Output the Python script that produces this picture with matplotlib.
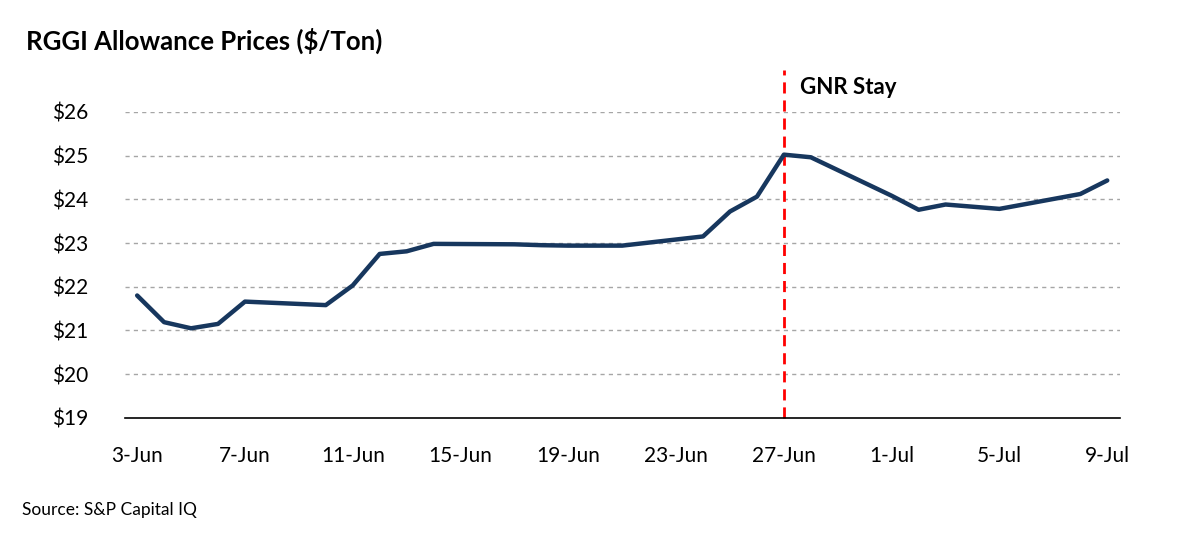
import pandas as pd
import matplotlib
matplotlib.use("Agg")
import matplotlib.pyplot as plt
import matplotlib.dates as mdates
from matplotlib.ticker import FuncFormatter

plt.rcParams['font.family'] = ['Lato', 'DejaVu Sans']

# trading days (2019) and RGGI allowance prices
dates = pd.to_datetime([
    "2019-06-03", "2019-06-04", "2019-06-05", "2019-06-06", "2019-06-07",
    "2019-06-10", "2019-06-11", "2019-06-12", "2019-06-13", "2019-06-14",
    "2019-06-17", "2019-06-18", "2019-06-19", "2019-06-20", "2019-06-21",
    "2019-06-24", "2019-06-25", "2019-06-26", "2019-06-27", "2019-06-28",
    "2019-07-01", "2019-07-02", "2019-07-03", "2019-07-05",
    "2019-07-08", "2019-07-09",
])
prices = [
    21.80, 21.19, 21.05, 21.15, 21.66,
    21.58, 22.03, 22.75, 22.81, 22.98,
    22.97, 22.95, 22.94, 22.94, 22.94,
    23.15, 23.72, 24.06, 25.02, 24.96,
    24.08, 23.76, 23.88, 23.78,
    24.12, 24.43,
]
tick_dates = pd.date_range("2019-06-03", "2019-07-09", freq="4D")
y_ticks = [19, 20, 21, 22, 23, 24, 25, 26]
event_date = pd.Timestamp("2019-06-27")
event_label = "GNR Stay"

fig = plt.figure(figsize=(12, 5.4), dpi=100)
ax = fig.add_axes([0.104, 0.226, 0.829, 0.567])

ax.plot(dates, prices, color='#17375E', linewidth=3.2, solid_joinstyle='round',
        solid_capstyle='round', zorder=3)

ax.set_ylim(19, 26)
ax.set_yticks(y_ticks)
ax.yaxis.set_major_formatter(FuncFormatter(lambda v, p: f"${v:.0f}"))
for y in y_ticks[1:]:
    ax.axhline(y, color='#A6A6A6', linewidth=1, linestyle=(0, (3, 3)), zorder=1)

ax.set_xlim(dates[0] - pd.Timedelta(hours=11), dates[-1] + pd.Timedelta(hours=11))
ax.set_xticks(tick_dates)
ax.xaxis.set_major_formatter(FuncFormatter(
    lambda v, p: f"{mdates.num2date(v).day}-{mdates.num2date(v):%b}"))

# event marker, runs above the plot area
ax.plot([event_date, event_date], [19, 26.95], color='#FF0000', linewidth=2,
        linestyle=(0, (4, 2.5)), clip_on=False, zorder=2)
ax.text(event_date + pd.Timedelta(hours=14), 26.55, event_label,
        fontsize=16, fontweight='bold', va='center', ha='left')

for s in ['top', 'right', 'left']:
    ax.spines[s].set_visible(False)
ax.spines['bottom'].set_color('black')
ax.spines['bottom'].set_linewidth(1.2)
ax.tick_params(axis='both', length=0, labelsize=15, colors='black')
ax.tick_params(axis='x', pad=20)
ax.tick_params(axis='y', pad=26)

fig.text(0.022, 0.925, "RGGI Allowance Prices ($/Ton)", fontsize=18.5,
         fontweight='bold', va='center')
fig.text(0.018, 0.055, "Source: S&P Capital IQ", fontsize=12.5, va='center')

plt.savefig("out.png", dpi=100)
